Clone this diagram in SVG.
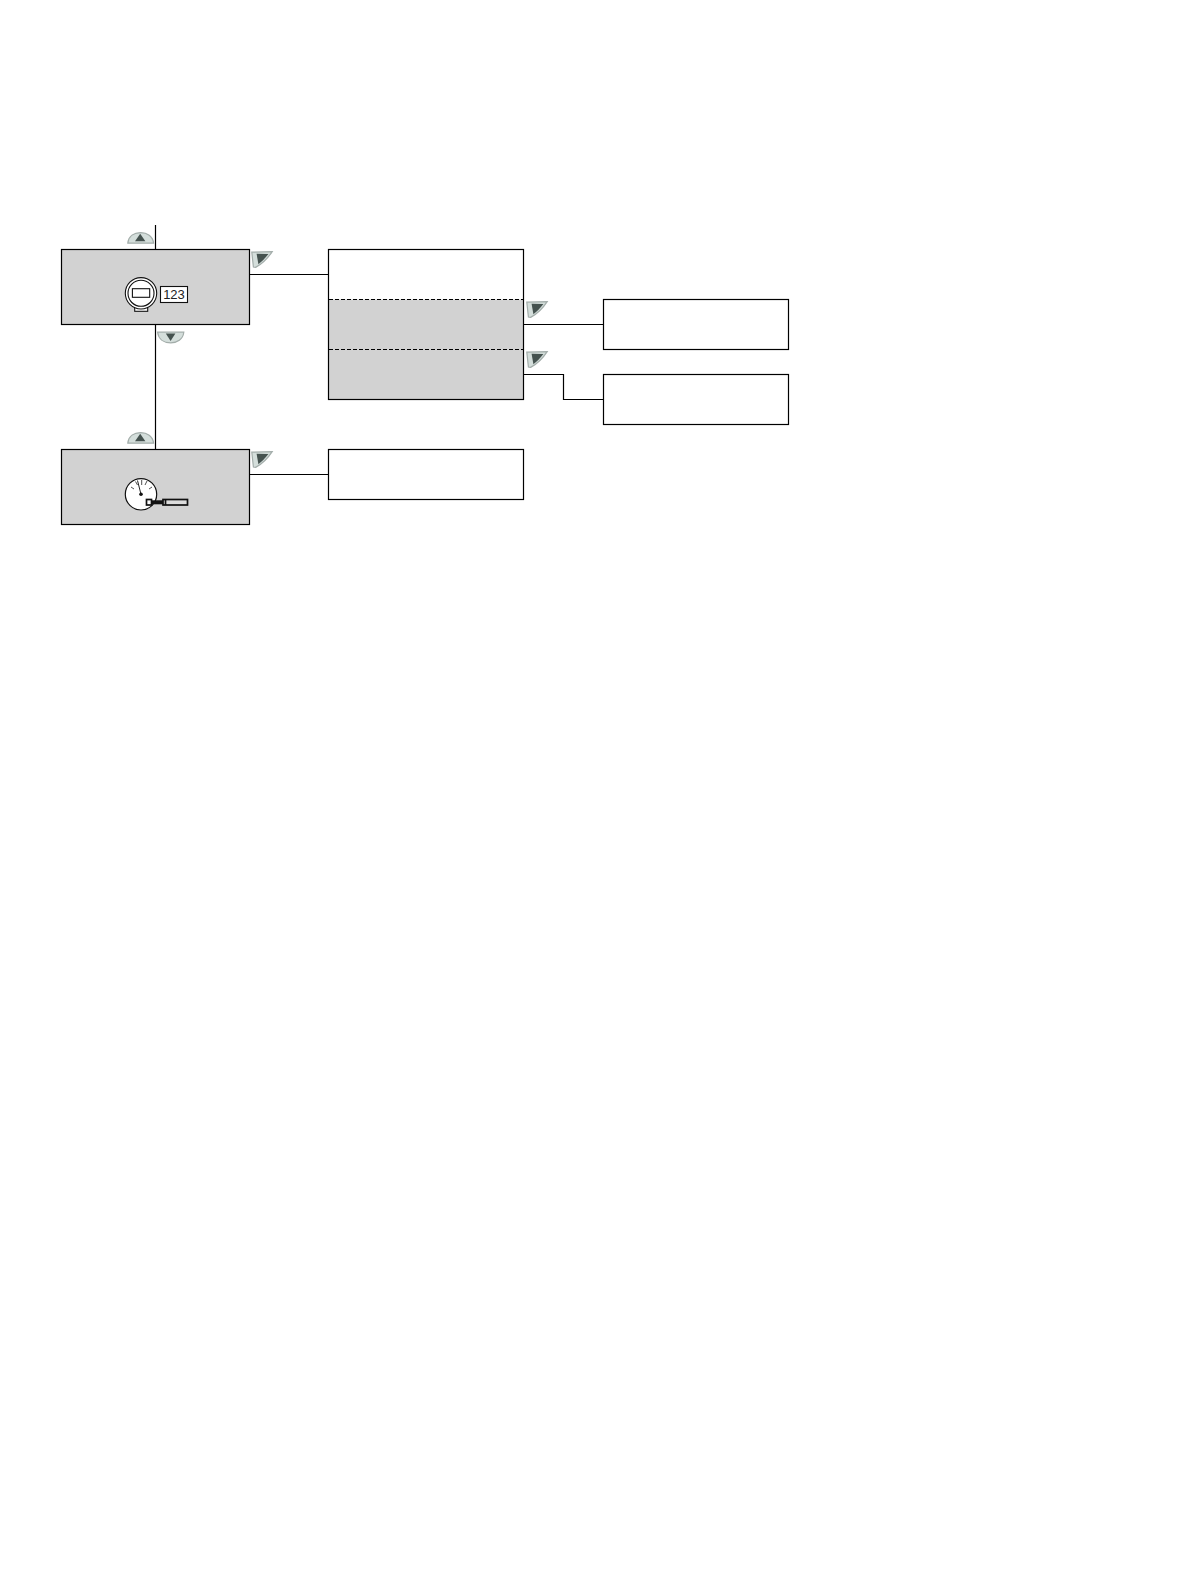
<svg xmlns="http://www.w3.org/2000/svg" width="1191" height="1582" viewBox="0 0 1191 1582">
<style>
.g{fill:#d2d2d2;stroke:#000;stroke-width:1.2}
.w{fill:#fff;stroke:#000;stroke-width:1.2}
.c{fill:none;stroke:#000;stroke-width:1.2}
.d{fill:none;stroke:#000;stroke-width:1.1;stroke-dasharray:4 2}
.b{fill:#d4dedb;stroke:#a3adaa;stroke-width:1.200}
.t{fill:#45524f}
.i{fill:#fff;stroke:#111;stroke-width:1.100}
.k{fill:none;stroke:#222;stroke-width:.8}
</style>
<defs>
<g id="up"><path class="b" d="M127.800 243.200C128.500 236 134 232.600 140.600 232.600C147 232.600 152.800 236 153.600 243.200Z"/><path class="t" d="M140.200 233.800L145.400 241.200H135Z"/></g>
<g id="down"><path class="b" d="M157.600 332.200H183.800C183 339.400 177 342.800 170.800 342.800C164 342.800 158.500 339.400 157.600 332.200Z"/><path class="t" d="M165.800 333.400H175.400L170.600 341Z"/></g>
<g id="right"><path class="b" d="M251.800 252.200L272.200 251.600C268 258 262 264 255.600 267.400L253.400 267Z"/><path class="t" d="M256.600 253.800L268.400 254C265 258.500 262 261.500 258.400 264.200Z"/></g>
</defs>
<g id="connectors">
<path class="c" d="M155.500 225V249.500M155.500 324.500V449.500M249.500 274.500H328.500M523.500 324.500H603.500M523.500 374.500H563.500V399.500H603.500M249.500 474.500H328.500"/>
</g>
<g id="node-display">
<rect class="g" x="61.500" y="249.500" width="188" height="75"/>
<rect class="i" x="134.700" y="306" width="13" height="5.300"/>
<circle class="i" cx="141" cy="293.300" r="15.700"/>
<circle class="i" cx="141" cy="293.300" r="13"/>
<rect class="i" x="132.400" y="288.700" width="17.300" height="8.600"/>
<rect class="i" x="160.500" y="286.500" width="27" height="16"/>
<text x="174" y="299" font-family="Liberation Sans, Arial, sans-serif" font-size="13" text-anchor="middle" fill="#222">123</text>
</g>
<g id="node-gauge">
<rect class="g" x="61.500" y="449.500" width="188" height="75"/>
<circle class="i" cx="141" cy="494.300" r="15.700" style="stroke-width:1.200"/>
<path class="k" d="M131 487L134 489M135.500 481.500L137.500 485M147 481L145 485M152 487L149 489M141.700 480V485"/>
<path d="M137.500 480.500L141 494.300" fill="none" stroke="#222" stroke-width="1"/>
<circle cx="141" cy="494.300" r="1.800" fill="#111"/>
<rect x="146.500" y="499.500" width="5" height="5.500" fill="#fff" stroke="#111" stroke-width="1.700"/>
<path d="M151.500 502.300H163" stroke="#111" stroke-width="4" fill="none"/>
<rect x="163" y="499.500" width="24.500" height="5.500" fill="#dcdcdc" stroke="#111" stroke-width="1.700"/>
<path d="M165.500 499.500V505" stroke="#111" stroke-width="1.700" fill="none"/>
</g>
<g id="node-menu">
<rect x="328.500" y="249.500" width="195" height="50" fill="#fff"/>
<rect x="328.500" y="299.500" width="195" height="100" fill="#d2d2d2"/>
<rect class="c" x="328.500" y="249.500" width="195" height="150"/>
<path class="d" d="M329 299.500H523M329 349.500H523"/>
</g>
<g id="node-box-a"><rect class="w" x="603.500" y="299.500" width="185" height="50"/></g>
<g id="node-box-b"><rect class="w" x="603.500" y="374.500" width="185" height="50"/></g>
<g id="node-box-c"><rect class="w" x="328.500" y="449.500" width="195" height="50"/></g>
<g id="buttons">
<use href="#up"/>
<use href="#down"/>
<use href="#right"/>
<use href="#up" y="200"/>
<use href="#right" y="200"/>
<use href="#right" x="275" y="50"/>
<use href="#right" x="275" y="100"/>
</g>
</svg>
